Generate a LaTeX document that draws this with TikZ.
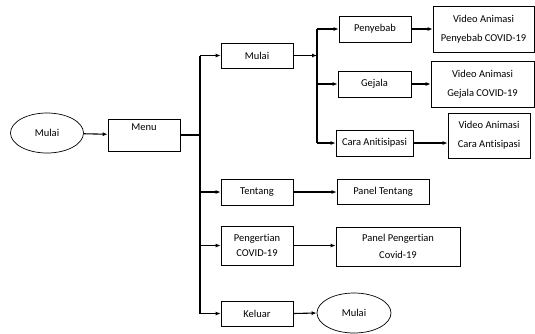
\documentclass[tikz,border=0pt]{standalone}
\usepackage{fontspec}
\setmainfont{Carlito}[Ligatures={NoCommon}]
\usetikzlibrary{shapes.geometric,arrows.meta}
\begin{document}
\begin{tikzpicture}[x=1pt,y=-1pt,
  every node/.style={font=\fontsize{10.5}{17}\selectfont, inner sep=0pt, align=center},
  box/.style={draw, line width=0.7pt, rectangle},
  oval/.style={draw, line width=0.7pt, ellipse},
  conn/.style={line width=1.1pt},
  arr/.style={conn, -{Latex[length=5pt,width=4pt]}}]
\useasboundingbox (0,0) rectangle (535,333);
% nodes
\node[oval, minimum width=73pt, minimum height=40pt] (start) at (47,133) {Mulai};
\node[box, minimum width=72pt, minimum height=32pt,
  label={[anchor=north,yshift=-5pt]north:Menu}] (menu) at (144,135) {};
\node[box, minimum width=72pt, minimum height=25pt] (mulai) at (257,55.5) {Mulai};
\node[box, minimum width=72pt, minimum height=26pt] (penyebab) at (375,29) {Penyebab};
\node[box, minimum width=73pt, minimum height=26pt] (gejala) at (374.5,84) {Gejala};
\node[box, minimum width=77pt, minimum height=26pt] (cara) at (374.5,143) {Cara Anitisipasi};
\node[box, minimum width=101pt, minimum height=46pt, font=\fontsize{10.5}{19}\selectfont] (vpenyebab) at (483.5,29) {Video Animasi\\Penyebab COVID-19};
\node[box, minimum width=103pt, minimum height=46pt, font=\fontsize{10.5}{19}\selectfont] (vgejala) at (482.5,84) {Video Animasi\\Gejala COVID-19};
\node[box, minimum width=82pt, minimum height=45pt, font=\fontsize{10.5}{19}\selectfont] (vcara) at (489,135.5) {Video Animasi\\Cara Antisipasi};
\node[box, minimum width=72pt, minimum height=26pt] (tentang) at (257,192) {Tentang};
\node[box, minimum width=92pt, minimum height=25pt] (ptentang) at (383,191.5) {Panel Tentang};
\node[box, minimum width=72pt, minimum height=39pt, font=\fontsize{10.5}{15.5}\selectfont] (pengertian) at (257,245.5) {Pengertian\\COVID-19};
\node[box, minimum width=124pt, minimum height=39pt] (ppengertian) at (398,246.5) {Panel Pengertian\\Covid-19};
\node[box, minimum width=72pt, minimum height=25pt] (keluar) at (257,313.5) {Keluar};
\node[oval, minimum width=74pt, minimum height=40pt] (end) at (354,313) {Mulai};
% bus coordinates
\coordinate (b1top) at (200,55.5);
\coordinate (b1bot) at (200,313.5);
\coordinate (b2top) at (317,29);
\coordinate (b2bot) at (317,143);
% connectors
\draw[arr] (start) -- (menu);
\draw[conn] (menu.east) -- (menu.east -| b1top);
\draw[conn] (b1top) -- (b1bot);
\draw[arr] (b1top) -- (mulai.west);
\draw[arr] (tentang.west -| b1top) -- (tentang.west);
\draw[arr] (pengertian.west -| b1top) -- (pengertian.west);
\draw[arr] (b1bot) -- (keluar.west);
\draw[arr] (mulai.east) -- (mulai.east -| b2top);
\draw[conn] (b2top) -- (b2bot);
\draw[arr] (b2top) -- (penyebab.west);
\draw[arr] (gejala.west -| b2top) -- (gejala.west);
\draw[arr] (b2bot) -- (cara.west);
\draw[arr] (penyebab.east) -- (penyebab.east -| vpenyebab.west);
\draw[arr] (gejala.east) -- (gejala.east -| vgejala.west);
\draw[arr] (cara.east) -- (cara.east -| vcara.west);
\draw[arr] (tentang.east) -- (tentang.east -| ptentang.west);
\draw[arr] (pengertian.east) -- (pengertian.east -| ppengertian.west);
\draw[arr] (keluar.east) -- (end.west);
\end{tikzpicture}
\end{document}
